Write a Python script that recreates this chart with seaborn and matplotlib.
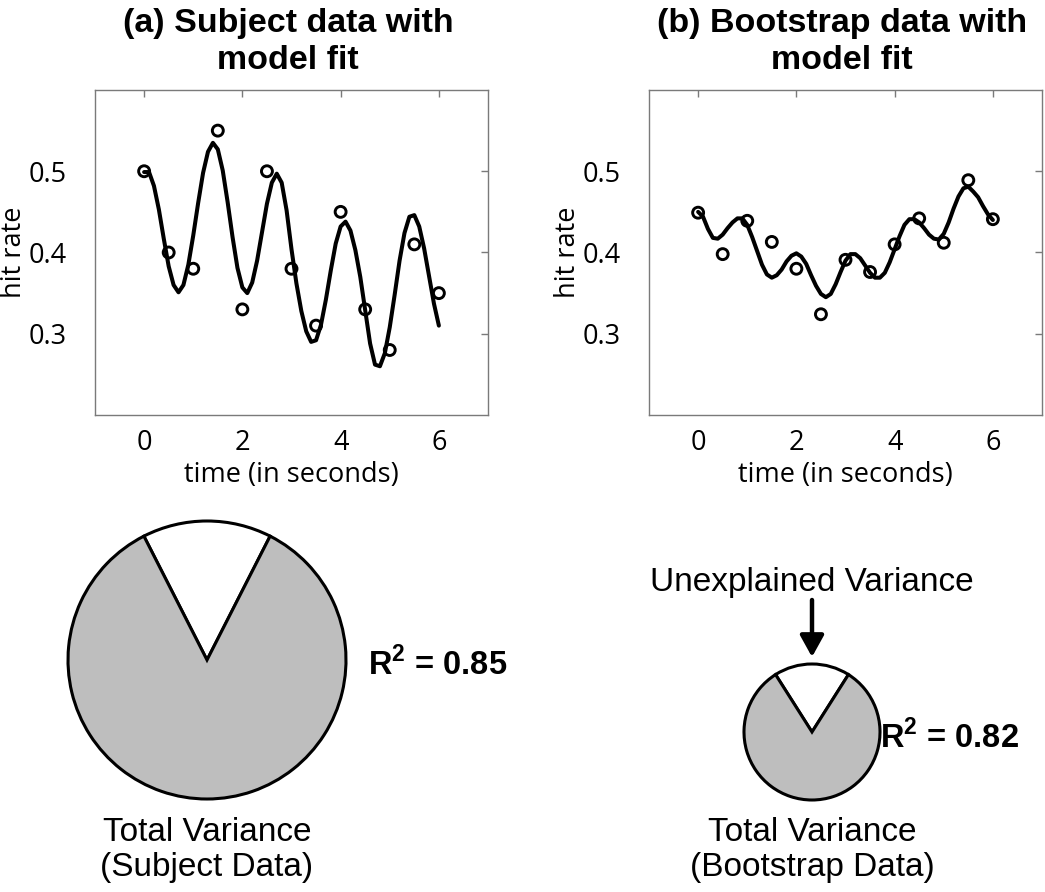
import numpy as np
import pandas as pd
import matplotlib
matplotlib.use("Agg")
import matplotlib.pyplot as plt
from matplotlib.patches import FancyArrowPatch
import seaborn as sns

# ---------------- data ----------------
sample_times = [0.0, 0.5, 1.0, 1.5, 2.0, 2.5, 3.0, 3.5, 4.0, 4.5, 5.0, 5.5, 6.0]
subject_hits = [0.50, 0.40, 0.38, 0.55, 0.33, 0.50, 0.38, 0.31, 0.45, 0.33, 0.28, 0.41, 0.35]
bootstrap_hits = [0.449, 0.398, 0.439, 0.413, 0.380, 0.324, 0.391, 0.376, 0.410,
                  0.442, 0.412, 0.489, 0.441]

# model fits sampled every 0.1 s from 0 to 6 s
fit_times = np.linspace(0.0, 6.0, 61)
subject_fit = [
    0.499, 0.499, 0.482, 0.453, 0.417, 0.383, 0.360, 0.351, 0.360, 0.385,
    0.421, 0.461, 0.498, 0.524, 0.535, 0.527, 0.501, 0.462, 0.419, 0.381,
    0.357, 0.350, 0.363, 0.390, 0.425, 0.460, 0.486, 0.497, 0.486, 0.452,
    0.404, 0.362, 0.328, 0.303, 0.290, 0.292, 0.311, 0.342, 0.378, 0.411,
    0.432, 0.438, 0.427, 0.403, 0.370, 0.329, 0.288, 0.262, 0.260, 0.276,
    0.308, 0.348, 0.390, 0.424, 0.444, 0.446, 0.432, 0.405, 0.371, 0.337,
    0.310,
]
bootstrap_fit = [
    0.450, 0.444, 0.429, 0.418, 0.417, 0.422, 0.430, 0.437, 0.442, 0.442,
    0.434, 0.419, 0.402, 0.385, 0.373, 0.369, 0.372, 0.379, 0.389, 0.396,
    0.399, 0.395, 0.386, 0.372, 0.359, 0.349, 0.345, 0.349, 0.361, 0.376,
    0.390, 0.398, 0.398, 0.393, 0.384, 0.375, 0.369, 0.369, 0.375, 0.388,
    0.404, 0.420, 0.434, 0.441, 0.441, 0.437, 0.430, 0.422, 0.417, 0.416,
    0.423, 0.437, 0.454, 0.469, 0.479, 0.481, 0.475, 0.468, 0.457, 0.447,
    0.440,
]

x_ticks = [0, 2, 4, 6]
y_ticks = [0.3, 0.4, 0.5]
y_tick_labels = ["0.3", "0.4", "0.5"]

panel_titles = ["(a) Subject data with\nmodel fit", "(b) Bootstrap data with\nmodel fit"]
r_squared = [0.85, 0.82]
pie_captions = ["Total Variance\n(Subject Data)", "Total Variance\n(Bootstrap Data)"]

# ---------------- style ----------------
sns.set_theme(style="white")
plt.rcParams["font.family"] = ["Open Sans", "DejaVu Sans"]
plt.rcParams.update({
    "text.color": "black",
    "axes.labelcolor": "black",
    "xtick.color": "black",
    "ytick.color": "black",
    "mathtext.fontset": "custom",
    "mathtext.rm": "Liberation Sans",
    "mathtext.bf": "Liberation Sans:bold",
})

W, H = 1045, 892
fig = plt.figure(figsize=(W / 100, H / 100), dpi=100)
fig.patch.set_facecolor("white")

SPINE = "#7a7a7a"
GREY_FILL = "#bebebe"
ARIAL = ["Liberation Sans", "DejaVu Sans"]


def axes_px(left, top, right, bottom):
    return fig.add_axes([left / W, 1 - bottom / H, (right - left) / W, (bottom - top) / H])


def fig_xy(x, y):
    return x / W, 1 - y / H


def draw_panel(ax, hits, fit):
    fit_df = pd.DataFrame({"t": fit_times, "hit": fit})
    pts_df = pd.DataFrame({"t": sample_times, "hit": hits})
    sns.lineplot(data=fit_df, x="t", y="hit", ax=ax, color="black",
                 linewidth=2.9, estimator=None, sort=False, zorder=2)
    sns.scatterplot(data=pts_df, x="t", y="hit", ax=ax, marker="o", s=62,
                    facecolor="none", edgecolor="black", linewidth=2.1, zorder=3)
    ax.set_xlim(-1, 7)
    ax.set_ylim(0.2, 0.6)
    ax.set_xticks(x_ticks)
    ax.set_yticks(y_ticks)
    ax.set_yticklabels(y_tick_labels)
    ax.tick_params(axis="both", direction="in", length=5, width=1, color=SPINE,
                   top=True, right=True, labelsize=19.5, labelcolor="black")
    ax.tick_params(axis="x", pad=10)
    ax.tick_params(axis="y", pad=20)
    for sp in ax.spines.values():
        sp.set_visible(True)
        sp.set_color(SPINE)
        sp.set_linewidth(1.0)
    ax.set_xlabel("time (in seconds)", fontsize=19.5, labelpad=3)
    ax.set_ylabel("hit rate", fontsize=19.5)
    ax.yaxis.set_label_coords(-0.17, 0.5)


ax_a = axes_px(95, 90, 488, 415)
ax_b = axes_px(649, 90, 1042, 415)
draw_panel(ax_a, subject_hits, subject_fit)
draw_panel(ax_b, bootstrap_hits, bootstrap_fit)

for cx, title in zip([288, 842], panel_titles):
    fig.text(*fig_xy(cx, 42), title, ha="center", va="center", fontsize=24.5,
             fontweight="bold", family=ARIAL, linespacing=1.22)


def draw_pie(cx, cy, radius, r2):
    half = radius * 1.25
    ax = axes_px(cx - half, cy - half, cx + half, cy + half)
    unexplained = 1 - r2
    ax.pie([unexplained, r2], colors=["white", GREY_FILL],
           startangle=90 - unexplained * 180, counterclock=True,
           wedgeprops=dict(edgecolor="black", linewidth=2.2, joinstyle="miter"))
    ax.set_xlim(-1.25, 1.25)
    ax.set_ylim(-1.25, 1.25)
    ax.set_aspect("equal")
    ax.axis("off")
    return ax


draw_pie(207, 660, 139, r_squared[0])
draw_pie(812, 732, 68, r_squared[1])

for (x0, y0), r2 in zip([(368, 665), (880, 738)], r_squared):
    fig.text(*fig_xy(x0, y0), r"R$^{\mathbf{2}}$" + f" = {r2:.2f}", ha="left",
             va="center", fontsize=23.5, fontweight="bold", family=ARIAL)

for cx, cap in zip([207, 812], pie_captions):
    fig.text(*fig_xy(cx, 850), cap, ha="center", va="center", fontsize=24,
             family=ARIAL, linespacing=1.18)

fig.text(*fig_xy(812, 582), "Unexplained Variance", ha="center", va="center",
         fontsize=24, family=ARIAL)
arrow = FancyArrowPatch(fig_xy(812, 600), fig_xy(812, 657), transform=fig.transFigure,
                        arrowstyle="-|>,head_length=0.65,head_width=0.36",
                        mutation_scale=20, linewidth=3.2, color="black",
                        shrinkA=0, shrinkB=0)
fig.add_artist(arrow)

fig.savefig("out.png", dpi=100, facecolor="white")
